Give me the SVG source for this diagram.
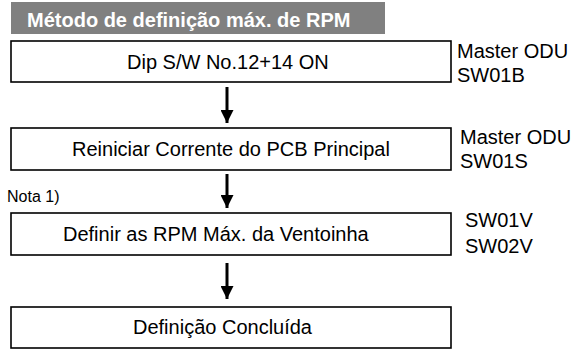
<svg xmlns="http://www.w3.org/2000/svg" width="573" height="349" viewBox="0 0 573 349">
<defs>
<style>
.box{fill:#fff;stroke:#000;stroke-width:1.6}
.t{font-family:"Liberation Sans",Arial,sans-serif;font-size:20px;fill:#000}
.s{font-family:"Liberation Sans",Arial,sans-serif;font-size:20px;fill:#000}
.n{font-family:"Liberation Sans",Arial,sans-serif;font-size:16px;fill:#000}
.shaft{stroke:#000;stroke-width:3}
</style>
<marker id="ah" markerWidth="13" markerHeight="13" refX="13" refY="6.5" orient="auto" markerUnits="userSpaceOnUse">
<path d="M0,0 L13,6.5 L0,13 Z" fill="#000"/>
</marker>
</defs>
<g id="header">
<rect x="11" y="2" width="374" height="32" fill="#808080"/>
<text x="27" y="27" font-family="Liberation Sans,Arial,sans-serif" font-size="20" font-weight="bold" fill="#fff">Método de definição máx. de RPM</text>
</g>
<g id="node1">
<rect class="box" x="11" y="41" width="440" height="41"/>
<text class="t" x="127" y="69">Dip S/W No.12+14 ON</text>
<text class="s" x="457" y="58">Master ODU</text>
<text class="s" x="457" y="82">SW01B</text>
</g>
<g id="node2">
<rect class="box" x="11" y="128" width="440" height="42"/>
<text class="t" x="72" y="156">Reiniciar Corrente do PCB Principal</text>
<text class="s" x="460" y="144">Master ODU</text>
<text class="s" x="460" y="168">SW01S</text>
</g>
<g id="note">
<text class="n" x="7" y="202">Nota 1)</text>
</g>
<g id="node3">
<rect class="box" x="11" y="213" width="440" height="42"/>
<text class="t" x="63" y="241">Definir as RPM Máx. da Ventoinha</text>
<text class="s" x="465" y="227">SW01V</text>
<text class="s" x="465" y="253">SW02V</text>
</g>
<g id="node4">
<rect class="box" x="11" y="307" width="440" height="41"/>
<text class="t" x="133" y="334">Definição Concluída</text>
</g>
<g id="connectors">
<line class="shaft" x1="227" y1="87" x2="227" y2="123" marker-end="url(#ah)"/>
<line class="shaft" x1="227" y1="174" x2="227" y2="208" marker-end="url(#ah)"/>
<line class="shaft" x1="227" y1="263" x2="227" y2="299" marker-end="url(#ah)"/>
</g>
</svg>
